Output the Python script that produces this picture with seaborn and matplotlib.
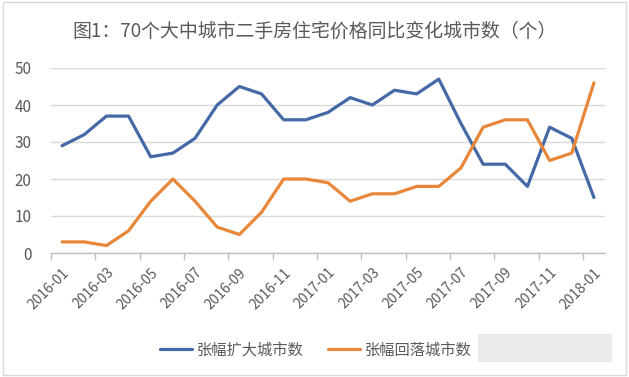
import matplotlib
matplotlib.use("Agg")
import matplotlib.pyplot as plt
import seaborn as sns
import pandas as pd
from matplotlib.patches import Rectangle

months = ["2016-01", "2016-02", "2016-03", "2016-04", "2016-05", "2016-06", "2016-07",
          "2016-08", "2016-09", "2016-10", "2016-11", "2016-12", "2017-01", "2017-02",
          "2017-03", "2017-04", "2017-05", "2017-06", "2017-07", "2017-08", "2017-09",
          "2017-10", "2017-11", "2017-12", "2018-01"]
expand = [29, 32, 37, 37, 26, 27, 31, 40, 45, 43, 36, 36, 38, 42, 40, 44, 43, 47,
          35, 24, 24, 18, 34, 31, 15]
fall = [3, 3, 2, 6, 14, 20, 14, 7, 5, 11, 20, 20, 19, 14, 16, 16, 18, 18,
        23, 34, 36, 36, 25, 27, 46]
series_names = ["张幅扩大城市数", "张幅回落城市数"]
title = "图1：70个大中城市二手房住宅价格同比变化城市数（个）"
yticks = [0, 10, 20, 30, 40, 50]

sns.set_theme(style="white")
plt.rcParams["font.family"] = ["Noto Sans CJK SC", "DejaVu Sans"]

n = len(months)
df = pd.DataFrame({
    "idx": list(range(n)) * 2,
    "value": expand + fall,
    "series": [series_names[0]] * n + [series_names[1]] * n,
})

fig = plt.figure(figsize=(6.29, 3.77), dpi=100)
ax = fig.add_axes([51 / 629, 1 - 253 / 377, (605 - 51) / 629, (253 - 68) / 377])

palette = {series_names[0]: "#4469a6", series_names[1]: "#e8873a"}
sns.lineplot(data=df, x="idx", y="value", hue="series", palette=palette,
             linewidth=2.3, ax=ax, legend=True)
for ln in ax.lines:
    ln.set_solid_joinstyle("round")
    ln.set_solid_capstyle("round")

ax.set_xlim(-0.5, n - 0.5)
ax.set_ylim(0, 50)
ax.set_yticks(yticks)
ax.set_yticklabels([str(v) for v in yticks], fontsize=11, color="#595959")
ax.yaxis.grid(True, color="#d9d9d9", linewidth=1)
ax.xaxis.grid(False)
ax.set_axisbelow(True)

lab_pos = list(range(0, n, 2))
ax.set_xticks(lab_pos)
ax.set_xticklabels([months[i] for i in lab_pos], rotation=45, ha="right",
                   rotation_mode="anchor", fontsize=10, color="#595959")
ax.set_xticks([i - 0.5 for i in range(0, n + 1, 2)], minor=True)
ax.tick_params(axis="x", which="major", length=0, pad=9)
ax.tick_params(axis="x", which="minor", length=5, color="#bfbfbf", width=1, bottom=True)
ax.tick_params(axis="y", length=0, pad=14)

for s in ["top", "right", "left"]:
    ax.spines[s].set_visible(False)
ax.spines["bottom"].set_color("#bfbfbf")
ax.spines["bottom"].set_linewidth(1)
ax.set_xlabel("")
ax.set_ylabel("")

handles, labels = ax.get_legend_handles_labels()
ax.legend_.remove()
leg = fig.legend(handles, labels, loc="center", bbox_to_anchor=(0.502, 1 - 350 / 377),
                 ncol=2, frameon=False, fontsize=11, handlelength=2.1,
                 handletextpad=0.3, columnspacing=1.6)
for t in leg.get_texts():
    t.set_color("#595959")

fig.text(0.5, 1 - 31 / 377, title, ha="center", va="center", fontsize=13.6, color="#595959")

# outer border
fig.patches.append(Rectangle((0.004, 0.004), 0.992, 0.99, transform=fig.transFigure,
                             fill=False, edgecolor="#d9d9d9", linewidth=1))
# blurred watermark patch
fig.patches.append(Rectangle((478 / 629, 1 - 362 / 377), (612 - 478) / 629, 28 / 377,
                             transform=fig.transFigure, facecolor="#e6e6e6",
                             edgecolor="none", alpha=0.8))

fig.savefig("out.png", dpi=100, facecolor="white")
